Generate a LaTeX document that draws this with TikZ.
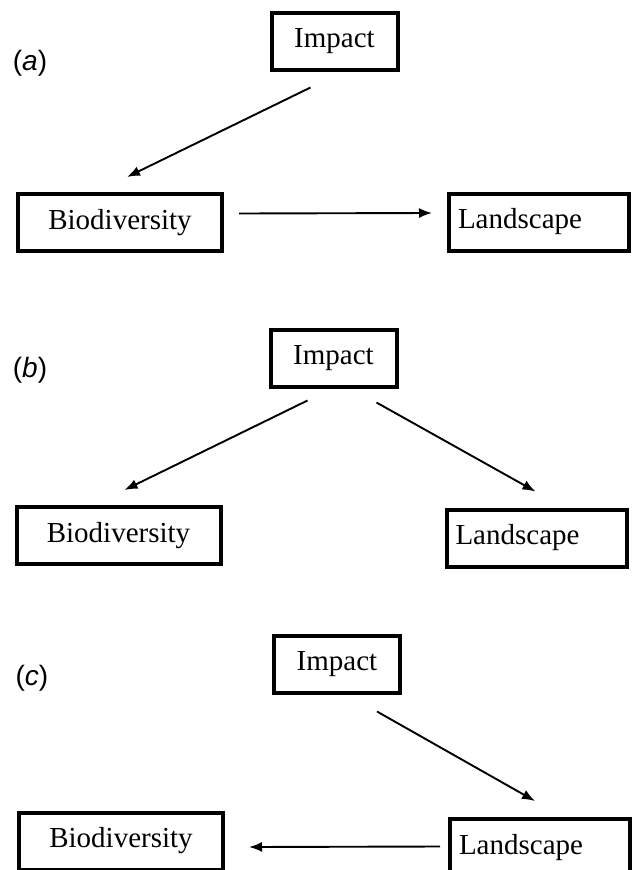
\documentclass[tikz,border=0pt]{standalone}
\usepackage{fontspec}
\setmainfont{Liberation Serif}
\setsansfont{Liberation Sans}
\usetikzlibrary{arrows.meta}

\begin{document}
\begin{tikzpicture}[x=1pt,y=-1pt,
    box/.style={draw, line width=4pt, rectangle, inner sep=0pt,
      minimum height=57pt, font=\fontsize{29}{34}\selectfont},
    impbox/.style={box, minimum width=126pt},
    biobox/.style={box, minimum width=204pt},
    landbox/.style={box, text width=162pt, align=left, inner xsep=9pt},
    arr/.style={line width=1.9pt, -{Latex[length=13pt,width=10pt]}},
    lbl/.style={font=\fontsize{28}{32}\selectfont\sffamily}]
    % page frame, in pixels of the figure (y downwards)
    \clip (0,0) rectangle (633,870);
    \fill[white] (0,0) rectangle (633,870);
    % (a) impact acts on biodiversity, biodiversity shapes the landscape
    \node[lbl] (la) at (30,63) {(\textit{a})};
    \node[impbox] (ia) at (334.5,41) {Impact};
    \node[biobox] (ba) at (120,222.5) {Biodiversity};
    \node[landbox] (sa) at (539,222) {Landscape};
    \draw[arr] ([xshift=-24pt,yshift=-16pt]ia.south) -- ([xshift=7pt,yshift=15pt]ba.north);
    \draw[arr] ([xshift=15pt,yshift=9pt]ba.east) -- ([xshift=-15pt,yshift=9pt]sa.west);
    % (b) impact acts on both separately
    \node[lbl] (lb) at (30,370) {(\textit{b})};
    \node[impbox] (ib) at (333.5,358) {Impact};
    \node[biobox] (bb) at (118.5,535.5) {Biodiversity};
    \node[landbox] (sb) at (536.5,538) {Landscape};
    \draw[arr] ([xshift=-26pt,yshift=-12pt]ib.south) -- ([xshift=6pt,yshift=15pt]bb.north);
    \draw[arr] ([xshift=43pt,yshift=-14pt]ib.south) -- ([xshift=-1pt,yshift=16pt]sb.north);
    % (c) impact acts on the landscape, landscape on biodiversity
    \node[lbl] (lc) at (32,678) {(\textit{c})};
    \node[impbox] (ic) at (337,664) {Impact};
    \node[biobox] (bc) at (121,841) {Biodiversity};
    \node[landbox] (sc) at (540,847.5) {Landscape};
    \draw[arr] ([xshift=40pt,yshift=-17pt]ic.south) -- ([xshift=-5pt,yshift=16pt]sc.north);
    \draw[arr] ([xshift=-8pt,yshift=1pt]sc.west) -- ([xshift=24pt,yshift=-6pt]bc.east);
\end{tikzpicture}
\end{document}
